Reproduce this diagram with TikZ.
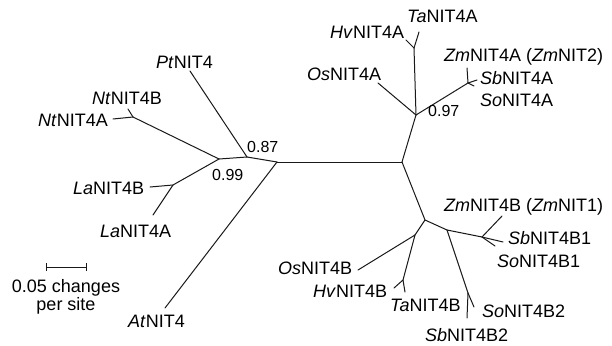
\documentclass[tikz,border=0pt]{standalone}
\usepackage{fontspec}
\setmainfont{Liberation Sans}
\begin{document}
\begin{tikzpicture}[x=1pt,y=-1pt,
  lab/.style={inner sep=0pt, anchor=base west, font=\fontsize{18}{20}\selectfont},
  boot/.style={inner sep=0pt, anchor=base west, font=\fontsize{16}{18}\selectfont},
  br/.style={line width=1pt, draw=black!90, line cap=round}]
\useasboundingbox (0,0) rectangle (612,345);
% internal nodes and tips
\coordinate (R0) at (277,162);
\coordinate (n87) at (247,157);
\coordinate (n99) at (219,159);
\coordinate (nNt) at (133,117);
\coordinate (tNtA) at (113,119);
\coordinate (tNtB) at (128,109);
\coordinate (nLa) at (173,185);
\coordinate (tLaB) at (150,187);
\coordinate (tLaA) at (153,215);
\coordinate (tPt) at (190,71);
\coordinate (tAt) at (165,308);
\coordinate (R1) at (402,162);
\coordinate (n97) at (416,115);
\coordinate (tOsA) at (378,83);
\coordinate (nHT) at (414,48);
\coordinate (tHvA) at (406,40);
\coordinate (tTaA) at (419,32);
\coordinate (nZSS) at (468,83);
\coordinate (tZmA) at (467,68);
\coordinate (tSbA) at (477,80);
\coordinate (tSoA) at (474,86);
\coordinate (nB) at (425,220);
\coordinate (nOHT) at (415,235);
\coordinate (tOsB) at (358,270);
\coordinate (nHTB) at (403,280);
\coordinate (tHvB) at (394,288);
\coordinate (tTaB) at (405,292);
\coordinate (nC) at (447,230);
\coordinate (nD) at (482,237);
\coordinate (tZmB) at (502,216);
\coordinate (tSbB1) at (503,242);
\coordinate (tSoB1) at (495,246);
\coordinate (nE) at (468,293);
\coordinate (tSoB2) at (474,307);
\coordinate (tSbB2) at (467,318);
% branches
\draw[br] (R0) -- (R1);
\draw[br] (R0) -- (n87);
\draw[br] (n87) -- (n99);
\draw[br] (n87) -- (tPt);
\draw[br] (R0) -- (tAt);
\draw[br] (n99) -- (nNt);
\draw[br] (nNt) -- (tNtA);
\draw[br] (nNt) -- (tNtB);
\draw[br] (n99) -- (nLa);
\draw[br] (nLa) -- (tLaB);
\draw[br] (nLa) -- (tLaA);
\draw[br] (R1) -- (n97);
\draw[br] (n97) -- (tOsA);
\draw[br] (n97) -- (nHT);
\draw[br] (nHT) -- (tHvA);
\draw[br] (nHT) -- (tTaA);
\draw[br] (n97) -- (nZSS);
\draw[br] (nZSS) -- (tZmA);
\draw[br] (nZSS) -- (tSbA);
\draw[br] (nZSS) -- (tSoA);
\draw[br] (R1) -- (nB);
\draw[br] (nB) -- (nOHT);
\draw[br] (nOHT) -- (tOsB);
\draw[br] (nOHT) -- (nHTB);
\draw[br] (nHTB) -- (tHvB);
\draw[br] (nHTB) -- (tTaB);
\draw[br] (nB) -- (nC);
\draw[br] (nC) -- (nD);
\draw[br] (nD) -- (tZmB);
\draw[br] (nD) -- (tSbB1);
\draw[br] (nD) -- (tSoB1);
\draw[br] (nC) -- (nE);
\draw[br] (nE) -- (tSoB2);
\draw[br] (nE) -- (tSbB2);
% labels
\node[lab] (lPt) at (156,68) {\textit{Pt}NIT4};
\node[lab] (lNtB) at (92,104) {\textit{Nt}NIT4B};
\node[lab] (lNtA) at (38,126) {\textit{Nt}NIT4A};
\node[lab] (lLaB) at (73,194) {\textit{La}NIT4B};
\node[lab] (lLaA) at (100,237) {\textit{La}NIT4A};
\node[lab] (lAt) at (128,327) {\textit{At}NIT4};
\node[boot] (b87) at (247,152) {0.87};
\node[boot] (b99) at (212,180) {0.99};
\node[lab] (lHvA) at (330,38) {\textit{Hv}NIT4A};
\node[lab] (lTaA) at (407,23) {\textit{Ta}NIT4A};
\node[lab] (lOsA) at (307,80) {\textit{Os}NIT4A};
\node[lab] (lZmA) at (444,61) {\textit{Zm}NIT4A (\textit{Zm}NIT2)};
\node[lab] (lSbA) at (480,84) {\textit{Sb}NIT4A};
\node[lab] (lSoA) at (480,106) {\textit{So}NIT4A};
\node[boot] (b97) at (428,116) {0.97};
\node[lab] (lZmB) at (444,211) {\textit{Zm}NIT4B (\textit{Zm}NIT1)};
\node[lab] (lSbB1) at (508,244) {\textit{Sb}NIT4B1};
\node[lab] (lSoB1) at (497,267) {\textit{So}NIT4B1};
\node[lab] (lOsB) at (278,274) {\textit{Os}NIT4B};
\node[lab] (lHvB) at (313,297) {\textit{Hv}NIT4B};
\node[lab] (lTaB) at (390,311) {\textit{Ta}NIT4B};
\node[lab] (lSoB2) at (482,317) {\textit{So}NIT4B2};
\node[lab] (lSbB2) at (425,341) {\textit{Sb}NIT4B2};
% scale bar
\coordinate (sA) at (46,267);
\coordinate (sB) at (86,267);
\draw[br, line cap=butt] (sA) -- (sB);
\draw[br, line cap=butt] ([yshift=-4pt]sA) -- ([yshift=4pt]sA);
\draw[br, line cap=butt] ([yshift=-4pt]sB) -- ([yshift=4pt]sB);
\node[lab, anchor=north, align=center, font=\fontsize{18}{16.5}\selectfont] (sc) at (66,279.5) {0.05 changes\\per site};
\end{tikzpicture}
\end{document}
